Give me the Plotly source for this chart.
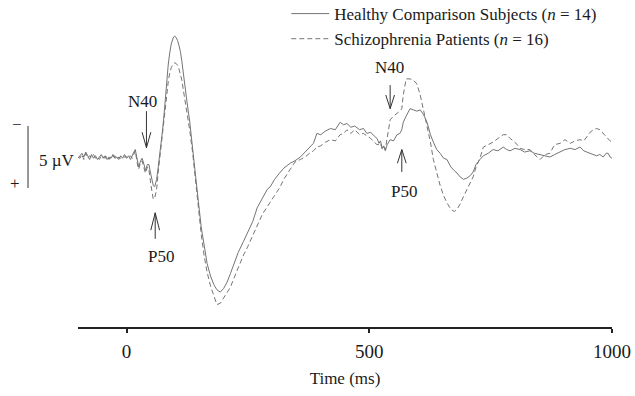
import plotly.graph_objects as go

# ---- data (time in ms, amplitude in microvolts; negative plotted upward) ----
time_ms = [
    -100, -96, -92, -88, -84, -80, -76, -72, -68, -64,
    -60, -56, -52, -48, -44, -40, -36, -32, -28, -24,
    -20, -16, -12, -8, -4, 0, 4, 8, 12, 15,
    18, 22, 25, 29, 32, 36, 39, 43, 46, 50,
    55, 58, 62, 65, 68, 71, 74, 77, 80, 83,
    86, 89, 92, 96, 99, 102, 105, 108, 111, 114,
    117, 120, 124, 130, 136, 142, 148, 154, 160, 166,
    173, 180, 186, 193, 200, 207, 214, 221, 230, 241,
    250, 260, 269, 280, 290, 296, 305, 315, 324, 337,
    347, 358, 368, 377, 385, 392, 400, 410, 420, 430,
    440, 447, 454, 462, 470, 480, 488, 495, 503, 510,
    516, 520, 523, 527, 530, 533, 537, 543, 550, 557,
    563, 567, 570, 576, 584, 591, 598, 605, 612, 619,
    626, 632, 639, 646, 653, 660, 668, 675, 681, 687,
    694, 701, 708, 714, 720, 728, 735, 745, 755, 765,
    776, 783, 790, 800, 811, 820, 831, 840, 852, 862,
    872, 882, 893, 903, 914, 924, 934, 942, 948, 955,
    962, 968, 975, 982, 988, 992, 996, 1000,
]

healthy_uv = [
    0.1, -0.1, -0.3, 0.0, -0.4, -0.1, 0.2, -0.2, 0.1, -0.1,
    0.2, 0.0, -0.2, 0.1, -0.1, 0.2, 0.0, 0.1, -0.2, 0.1,
    0.0, 0.2, -0.1, 0.1, -0.2, 0.1, -0.1, 0.2, -0.2, -0.4,
    -0.6, 0.2, 0.8, 0.3, 0.1, 0.6, 1.1, 0.6, 0.6, 1.4,
    2.3, 2.4, 1.8, 0.9, 0.0, -1.2, -2.1, -3.3, -4.9, -6.2,
    -7.5, -8.4, -9.1, -9.6, -9.75, -9.65, -9.4, -9.0, -8.5, -7.7,
    -6.7, -5.7, -4.6, -2.9, -0.9, 1.4, 3.6, 5.7, 7.3, 8.6,
    9.6, 10.3, 10.7, 10.9, 10.6, 10.1, 9.4, 8.6, 7.7, 6.8,
    6.0, 5.2, 4.1, 3.3, 2.6, 2.4, 1.8, 1.3, 0.9, 0.5,
    0.3, 0.0, -0.4, -0.7, -1.1, -1.9, -1.8, -2.1, -2.3, -2.2,
    -2.8, -2.6, -2.7, -2.4, -2.5, -2.2, -2.3, -1.9, -2.0, -1.7,
    -1.5, -1.1, -1.3, -0.7, -0.9, -0.5, -1.0, -1.4, -1.3, -1.8,
    -1.9, -2.2, -2.8, -3.3, -3.9, -3.8, -3.7, -3.8, -3.4, -2.8,
    -1.8, -1.2, -0.6, -0.3, 0.1, 0.2, 0.8, 1.1, 1.3, 1.6,
    1.8, 1.7, 1.5, 1.2, 0.6, 0.2, -0.1, -0.3, -0.6, -0.5,
    -0.8, -0.6, -0.5, -0.7, -0.6, -0.4, -0.5, -0.3, -0.2, -0.1,
    0.0, -0.2, -0.4, -0.6, -0.7, -0.6, -0.8, -0.5, -0.4, -0.3,
    -0.2, -0.1, -0.2, 0.0, -0.3, -0.3, 0.0, 0.1,
]

patients_uv = [
    0.0, 0.1, -0.2, 0.2, -0.3, 0.1, -0.1, 0.0, -0.2, 0.1,
    0.0, 0.2, -0.1, 0.0, 0.1, -0.1, 0.2, -0.1, 0.0, -0.1,
    0.2, 0.0, 0.1, -0.1, 0.0, 0.0, 0.1, -0.1, 0.1, -0.2,
    -0.5, 0.5, 1.0, 0.4, 0.3, 0.9, 1.3, 0.8, 1.0, 2.2,
    3.4, 3.3, 2.6, 1.3, 0.2, -0.9, -1.8, -3.0, -4.2, -5.2,
    -6.1, -6.8, -7.2, -7.5, -7.6, -7.55, -7.4, -7.1, -6.7, -6.2,
    -5.4, -4.7, -3.8, -2.2, -0.4, 1.8, 4.2, 6.3, 8.0, 9.3,
    10.4, 11.3, 11.9, 11.8, 11.4, 11.0, 10.5, 9.8, 8.9, 7.9,
    7.2, 6.3, 5.5, 4.6, 4.0, 3.6, 3.1, 2.5, 1.8, 1.0,
    0.4, 0.2, 0.0, -0.3, -0.5, -0.8, -0.9, -1.2, -1.4, -1.3,
    -1.8, -1.9, -2.2, -1.9, -2.2, -1.8, -1.9, -1.7, -1.5, -1.2,
    -1.0, -1.0, -1.1, -0.6, -0.8, -0.6, -1.6, -3.0, -3.3, -3.5,
    -3.7, -3.9, -5.0, -6.3, -6.3, -6.2, -5.9, -5.0, -3.8, -2.6,
    -1.2, 0.2, 1.3, 2.3, 3.1, 3.7, 4.2, 4.4, 4.2, 3.8,
    3.2, 2.6, 2.0, 1.6, 0.8, 0.1, -0.8, -1.0, -1.2, -1.5,
    -1.8, -1.8, -1.5, -1.2, -0.7, -0.6, -0.6, -0.2, 0.2, -0.2,
    -0.3, -1.0, -1.1, -1.4, -1.1, -1.3, -1.4, -1.3, -1.6, -2.0,
    -2.2, -2.3, -2.2, -1.9, -1.6, -1.5, -1.3, -1.2,
]

series_names = [
    "Healthy Comparison Subjects (<i>n</i> = 14)",
    "Schizophrenia Patients (<i>n</i> = 16)",
]
x_ticks = [0, 500, 1000]

# component labels: (text, time ms, label µV, arrow tail µV, arrow tip µV, arm µV, arrow time ms)
components = [
    ("N40", 33, -4.5, -3.7, -0.75, -2.0, 41),
    ("P50", 70, 8.0, 6.6, 4.5, 5.9, 59),
    ("N40", 542, -7.2, -5.8, -3.9, -5.0, 543),
    ("P50", 572, 2.75, 1.2, -0.6, 0.5, 567),
]
scale_bar_uv = 5

# ---- styling ----
FONT = "Liberation Serif, Times New Roman, serif"
TXT = "#1a1a1a"
LINE = "#747474"
Y_RANGE = [13.71, -11.05]  # bottom, top (negative up)

fig = go.Figure()
fig.add_trace(go.Scatter(x=time_ms, y=healthy_uv, mode="lines", name=series_names[0],
                         line=dict(color=LINE, width=1)))
fig.add_trace(go.Scatter(x=time_ms, y=patients_uv, mode="lines", name=series_names[1],
                         line=dict(color=LINE, width=1, dash="5px,3px")))

shapes = []
annotations = []
arm_dx = 9
for text, tx, ty, tail, tip, arm, ax in components:
    annotations.append(dict(x=tx, y=ty, xref="x", yref="y", text=text, showarrow=False,
                            font=dict(family=FONT, size=17, color=TXT)))
    shapes.append(dict(type="path", xref="x", yref="y",
                       path=f"M {ax},{tail} L {ax},{tip} M {ax - arm_dx},{arm} L {ax},{tip} L {ax + arm_dx},{arm}",
                       line=dict(color="#333333", width=1)))


def paper_y(v):
    return (Y_RANGE[0] - v) / (Y_RANGE[0] - Y_RANGE[1])


# scale bar
half = scale_bar_uv / 2
shapes.append(dict(type="line", xref="paper", yref="paper", x0=-0.0936, x1=-0.0936,
                   y0=paper_y(-half), y1=paper_y(half), line=dict(color="#333333", width=1)))
annotations.append(dict(x=-0.077, y=0.25, xref="paper", yref="y", xanchor="left",
                        text=f"{scale_bar_uv} µV", showarrow=False,
                        font=dict(family=FONT, size=17, color=TXT)))
annotations.append(dict(x=-0.114, y=-2.6, xref="paper", yref="y", xanchor="center",
                        text="−", showarrow=False, font=dict(family=FONT, size=17, color=TXT)))
annotations.append(dict(x=-0.118, y=2.1, xref="paper", yref="y", xanchor="center",
                        text="+", showarrow=False, font=dict(family=FONT, size=17, color="#1a1a1a")))

fig.update_layout(
    width=635, height=396,
    margin=dict(l=78, r=23, t=20, b=69, autoexpand=False),
    paper_bgcolor="white", plot_bgcolor="white",
    font=dict(family=FONT, color=TXT, size=17),
    showlegend=True,
    legend=dict(x=0.39, y=1.078, xanchor="left", yanchor="top", bgcolor="rgba(0,0,0,0)",
                font=dict(family=FONT, size=17, color=TXT), tracegroupgap=0,
                itemwidth=38),
    shapes=shapes,
    annotations=annotations,
)
fig.update_xaxes(range=[-100, 1000], showline=True, linecolor="#222222", linewidth=1.5,
                 ticks="outside", ticklen=4, tickwidth=1.5, tickcolor="#222222",
                 tickvals=x_ticks, ticktext=[str(v) for v in x_ticks], automargin=False,
                 tickfont=dict(family=FONT, size=19, color=TXT), ticklabelstandoff=2,
                 showgrid=False, zeroline=False,
                 title=dict(text="Time (ms)", font=dict(family=FONT, size=17, color=TXT), standoff=12))
fig.update_yaxes(range=Y_RANGE, visible=False, showgrid=False, zeroline=False)

fig.write_html("out.html")
